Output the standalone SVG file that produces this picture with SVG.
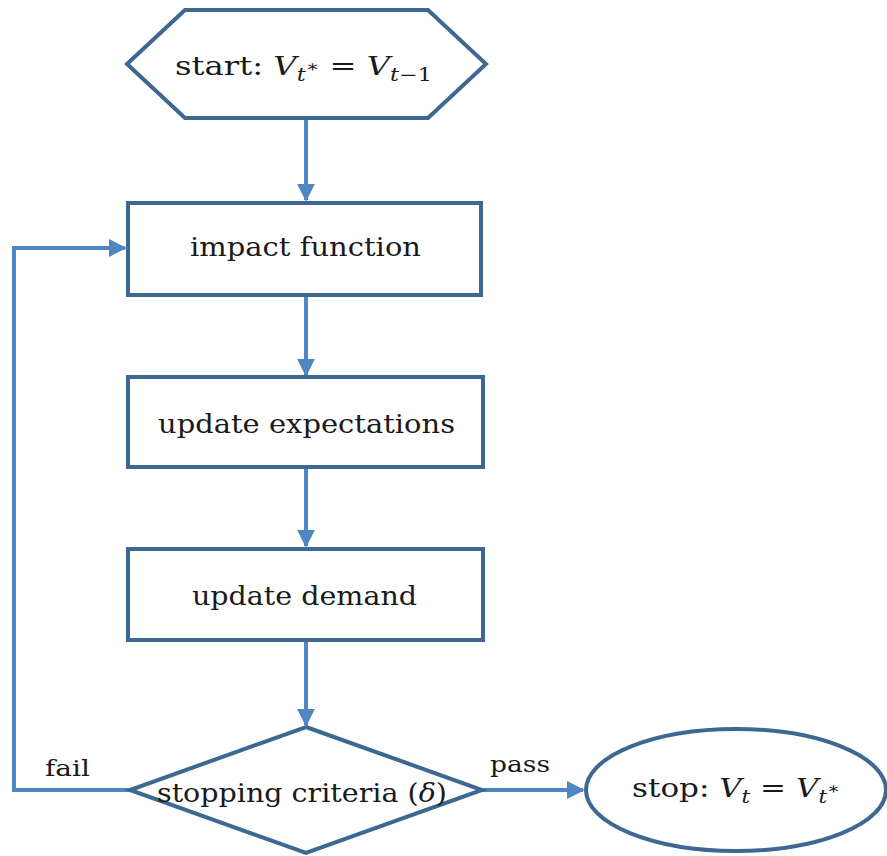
<svg xmlns="http://www.w3.org/2000/svg" width="887" height="856" viewBox="0 0 887 856">
<defs>
<style>
.node{fill:#fefefe;stroke:#3c6891;stroke-width:4;stroke-linejoin:miter}
.conn{fill:none;stroke:#4f87c3;stroke-width:4}
.t{font-family:"DejaVu Serif","Liberation Serif",serif;font-size:26px;fill:#1a1a1a}
.lbl{font-family:"DejaVu Serif","Liberation Serif",serif;font-size:22px;fill:#1a1a1a}
.i{font-style:italic}
</style>
<marker id="arr" viewBox="0 0 10 10" refX="9" refY="5" markerWidth="4.5" markerHeight="4.5" markerUnits="strokeWidth" orient="auto">
<path d="M0,0 L10,5 L0,10 z" fill="#4f87c3"/>
</marker>
</defs>
<rect width="887" height="856" fill="#ffffff"/>
<g id="connectors">
<line class="conn" x1="306" y1="118" x2="306" y2="200" marker-end="url(#arr)"/>
<line class="conn" x1="306" y1="295" x2="306" y2="375" marker-end="url(#arr)"/>
<line class="conn" x1="306" y1="467" x2="306" y2="546" marker-end="url(#arr)"/>
<line class="conn" x1="306" y1="640" x2="306" y2="725" marker-end="url(#arr)"/>
<polyline class="conn" points="130,790 14,790 14,248 125,248" marker-end="url(#arr)"/>
<line class="conn" x1="482" y1="790" x2="583" y2="790" marker-end="url(#arr)"/>
<text class="lbl" x="45" y="776" textLength="45" lengthAdjust="spacingAndGlyphs">fail</text>
<text class="lbl" x="490" y="772" textLength="60" lengthAdjust="spacingAndGlyphs">pass</text>
</g>
<g id="start">
<polygon class="node" points="127,64 185,10 428,10 486,64 428,118 185,118"/>
<text class="t" x="175" y="75" textLength="257" lengthAdjust="spacingAndGlyphs">start:  <tspan class="i">V</tspan><tspan class="i" font-size="18" dy="6">t</tspan><tspan font-size="16" dy="-9">∗</tspan><tspan dy="3"> = </tspan><tspan class="i">V</tspan><tspan font-size="18" dy="6"><tspan class="i">t</tspan>−1</tspan></text>
</g>
<g id="impact">
<rect class="node" x="128" y="203" width="353" height="92"/>
<text class="t" x="190" y="256" textLength="231" lengthAdjust="spacingAndGlyphs">impact function</text>
</g>
<g id="expectations">
<rect class="node" x="128" y="377" width="355" height="90"/>
<text class="t" x="158" y="433" textLength="297" lengthAdjust="spacingAndGlyphs">update expectations</text>
</g>
<g id="demand">
<rect class="node" x="128" y="549" width="355" height="91"/>
<text class="t" x="192" y="605" textLength="225" lengthAdjust="spacingAndGlyphs">update demand</text>
</g>
<g id="criteria">
<polygon class="node" points="306,727 482,790 306,853 130,790"/>
<text class="t" x="157" y="802" textLength="290" lengthAdjust="spacingAndGlyphs">stopping criteria (<tspan class="i">δ</tspan>)</text>
</g>
<g id="stop">
<ellipse class="node" cx="736" cy="790" rx="150" ry="61"/>
<text class="t" x="632" y="797" textLength="208" lengthAdjust="spacingAndGlyphs">stop:  <tspan class="i">V</tspan><tspan class="i" font-size="18" dy="6">t</tspan><tspan dy="-6"> = </tspan><tspan class="i">V</tspan><tspan class="i" font-size="18" dy="6">t</tspan><tspan font-size="16" dy="-9">∗</tspan></text>
</g>
</svg>
